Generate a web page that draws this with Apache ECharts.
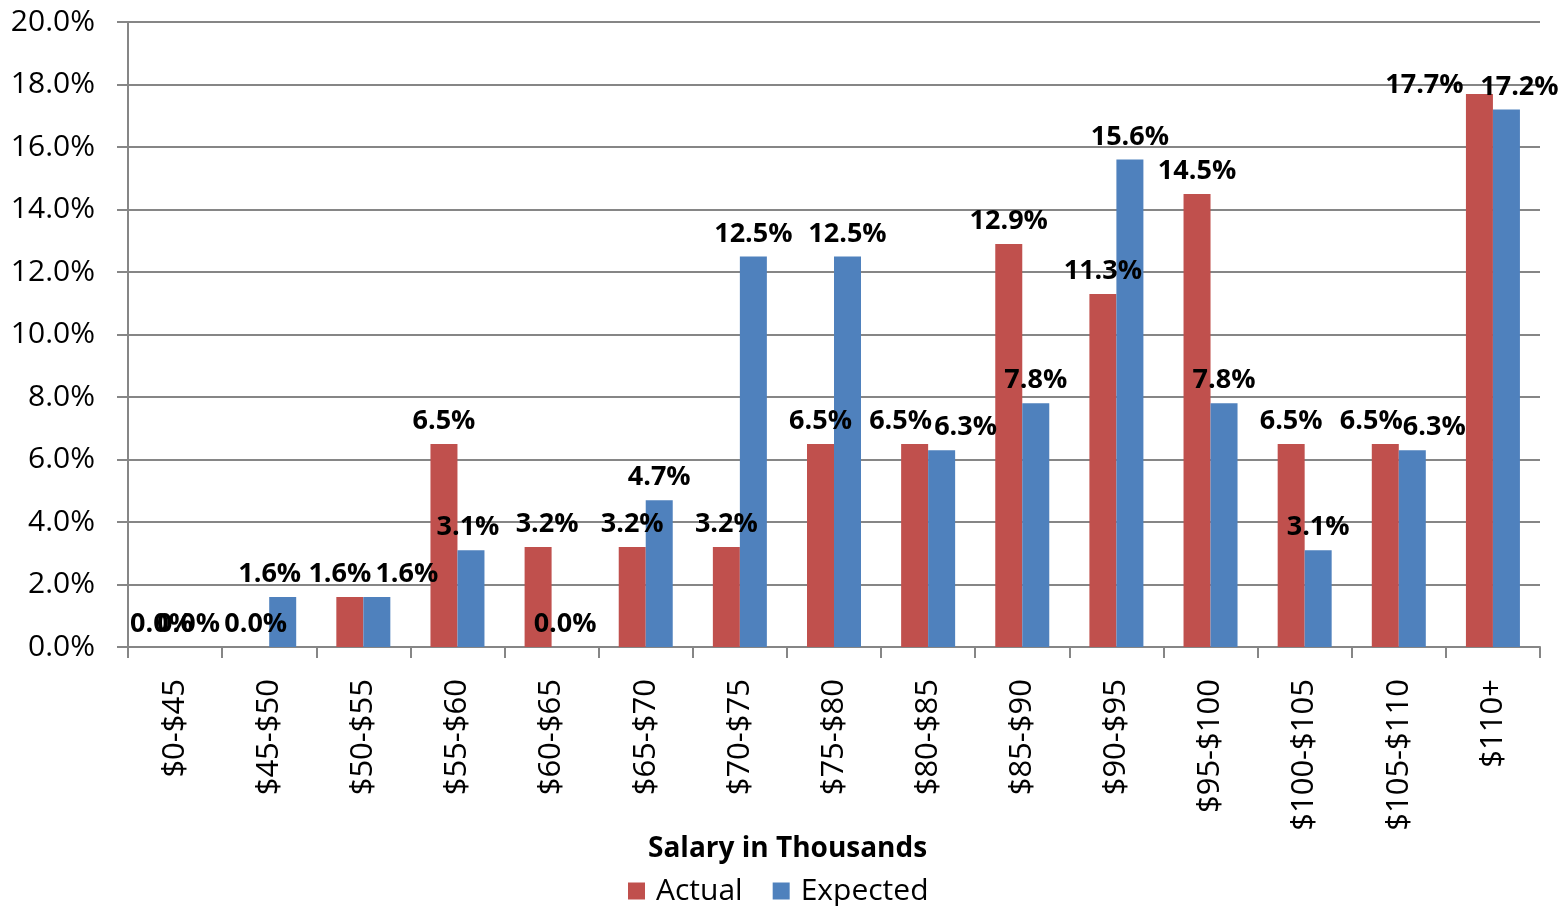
<!DOCTYPE html>
<html>
<head>
<meta charset="utf-8">
<script src="https://cdn.jsdelivr.net/npm/echarts@6/dist/echarts.min.js"></script>
<style>html,body{margin:0;padding:0;background:#fff}#c{width:1568px;height:906px}</style>
</head>
<body>
<div id="c"></div>
<script>
const categories = ['$0-$45','$45-$50','$50-$55','$55-$60','$60-$65','$65-$70','$70-$75','$75-$80','$80-$85','$85-$90','$90-$95','$95-$100','$100-$105','$105-$110','$110+'];
const actual   = [0.0, 0.0, 1.6, 6.5, 3.2, 3.2, 3.2, 6.5, 6.5, 12.9, 11.3, 14.5, 6.5, 6.5, 17.7];
const expected = [0.0, 1.6, 1.6, 3.1, 0.0, 4.7, 12.5, 12.5, 6.3, 7.8, 15.6, 7.8, 3.1, 6.3, 17.2];
const seriesNames = ['Actual', 'Expected'];
const axisTitle = 'Salary in Thousands';

// label nudges (as in the reference, where some labels were moved to avoid overlap)
const actualLabelShift   = [[0,0],[0,0],[-10,0],[0,0],[9,0],[0,0],[0,0],[0,0],[-14,0],[0,0],[0,0],[0,0],[0,0],[-14,0],[-55,14]];
const expectedLabelShift = [[0,0],[-13,0],[30,0],[-3,0],[0,0],[0,0],[0,0],[0,0],[24,0],[0,0],[0,0],[0,0],[0,0],[22,0],[13,0]];

const FONT = '"Open Sans", sans-serif';
const labelStyle = {show:true, position:'top', distance:9, color:'#000', fontWeight:'bold', fontSize:27, fontFamily:FONT,
  formatter: p => p.value.toFixed(1) + '%'};

function mk(vals, shifts){
  return vals.map((v,i)=>({value:v, label:{offset:shifts[i]}}));
}

const chart = echarts.init(document.getElementById('c'), null, {renderer:'canvas'});
chart.setOption({
  animation:false,
  title:{text:axisTitle, left:643, top:835, padding:[0,5],
    textStyle:{fontSize:28, fontWeight:'bold', fontFamily:FONT, color:'#000'}},
  grid:{left:128, right:28, top:22, bottom:259},
  legend:{bottom:-5, left:623, icon:'rect', itemWidth:17, itemHeight:17, itemGap:30,
    textStyle:{fontSize:30, fontFamily:FONT, color:'#000', padding:[0,0,0,6]}, data:seriesNames},
  xAxis:{type:'category', data:categories, boundaryGap:true,
    axisLine:{lineStyle:{color:'#868686', width:2}},
    axisTick:{show:true, alignWithLabel:false, length:11, lineStyle:{color:'#868686', width:2}},
    axisLabel:{rotate:90, fontSize:31, fontFamily:FONT, color:'#000', margin:32, interval:0}},
  yAxis:{type:'value', min:0, max:20, interval:2,
    axisLine:{show:true, lineStyle:{color:'#868686', width:2}},
    axisTick:{show:true, length:11, lineStyle:{color:'#868686', width:2}},
    splitLine:{lineStyle:{color:'#868686', width:2}},
    axisLabel:{fontSize:30, fontFamily:FONT, color:'#000', margin:33, formatter:v=>v.toFixed(1)+'%'}},
  series:[
    {name:seriesNames[0], type:'bar', data:mk(actual, actualLabelShift), barWidth:27, barGap:'0%',
     itemStyle:{color:'#C0504D'}, label:labelStyle},
    {name:seriesNames[1], type:'bar', data:mk(expected, expectedLabelShift), barWidth:27, barGap:'0%',
     itemStyle:{color:'#4F81BD'}, label:labelStyle}
  ]
});
</script>
</body>
</html>
